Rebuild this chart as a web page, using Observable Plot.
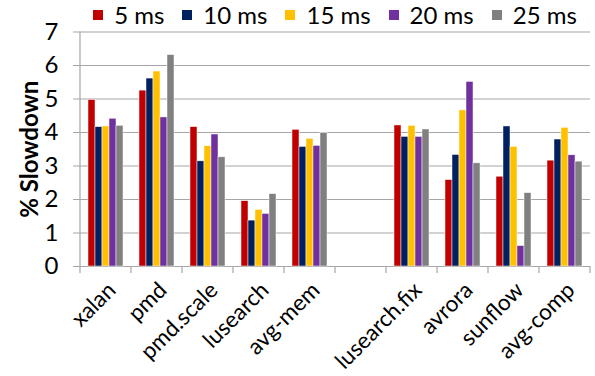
<!DOCTYPE html>
<html>
<head>
<meta charset="utf-8">
<script src="https://cdn.jsdelivr.net/npm/d3@7"></script>
<script src="https://cdn.jsdelivr.net/npm/@observablehq/plot@0.6"></script>
<style>
  body { margin: 0; background: #fff; }
  #chart { position: relative; width: 595px; height: 376px; font-family: Lato, "DejaVu Sans", sans-serif; }
  #legend {
    position: absolute; left: 78px; top: 0; width: 514px; height: 29px;
    display: flex; justify-content: center; align-items: center; gap: 18px;
    font-size: 24px; color: #000;
  }
  #legend .item { display: flex; align-items: center; }
  #legend .sw { width: 10px; height: 10px; margin-right: 11px; }
  #chart svg [aria-label="y-axis label"] { font-weight: bold; }
</style>
</head>
<body>
<div id="chart"><div id="legend"></div></div>
<script>
// Benchmarks, with an empty slot between the memory and compute groups
const memoryBenchmarks = ["xalan", "pmd", "pmd.scale", "lusearch", "avg-mem"];
const computeBenchmarks = ["lusearch.fix", "avrora", "sunflow", "avg-comp"];
const spacer = " ";
const benchmarks = [...memoryBenchmarks, ...computeBenchmarks];

// Sampling periods and their colours
const periods = ["5 ms", "10 ms", "15 ms", "20 ms", "25 ms"];
const periodColors = ["#C00000", "#002060", "#FFC000", "#7030A0", "#808080"];

// % slowdown per benchmark (same order as benchmarks) for each period
const slowdown5ms  = [4.97, 5.25, 4.16, 1.95, 4.08, 4.21, 2.58, 2.68, 3.16];
const slowdown10ms = [4.16, 5.61, 3.14, 1.37, 3.57, 3.87, 3.33, 4.18, 3.79];
const slowdown15ms = [4.18, 5.82, 3.59, 1.69, 3.81, 4.20, 4.66, 3.57, 4.14];
const slowdown20ms = [4.41, 4.45, 3.94, 1.57, 3.60, 3.87, 5.51, 0.61, 3.32];
const slowdown25ms = [4.20, 6.31, 3.26, 2.16, 3.98, 4.09, 3.08, 2.19, 3.13];

const yTicks = [0, 1, 2, 3, 4, 5, 6, 7];

const series = [slowdown5ms, slowdown10ms, slowdown15ms, slowdown20ms, slowdown25ms];
const rows = [];
series.forEach((values, i) => {
  values.forEach((v, j) => rows.push({bench: benchmarks[j], period: periods[i], value: v}));
});

const fxDomain = [...memoryBenchmarks, spacer, ...computeBenchmarks];

// Gridlines repeated in every column (the spacer column included)
const gridRows = fxDomain.flatMap((b) => yTicks.map((t) => ({bench: b, tick: t})));

const gridColor = "#a6a6a6";

const chart = Plot.plot({
  width: 595,
  height: 376,
  marginLeft: 78,
  marginRight: 3,
  marginTop: 31.5,
  marginBottom: 110,
  style: {fontFamily: "Lato, 'DejaVu Sans', sans-serif", fontSize: "24px", color: "#000", background: "transparent"},
  fx: {domain: fxDomain, padding: 0, axis: null},
  x: {domain: periods, paddingInner: 0, paddingOuter: 0.75, axis: null},
  y: {domain: [0, 7], axis: null},
  color: {domain: periods, range: periodColors},
  marks: [
    Plot.ruleY(gridRows, {fx: "bench", y: "tick", stroke: gridColor, strokeWidth: 1.2}),
    Plot.barY(rows, {
      fx: "bench", x: "period", y: "value", fill: "period",
      stroke: "white", strokeWidth: 0.6, strokeOpacity: 0.8
    }),
    Plot.axisY({
      ticks: yTicks, tickFormat: "d", tickSize: 7, tickPadding: 15, stroke: gridColor, fill: "#000",
      label: "% Slowdown", labelAnchor: "center", labelArrow: "none", labelOffset: 60
    }),
    Plot.axisFx({
      anchor: "bottom", tickSize: 0, tickPadding: 20, tickRotate: -45, fill: "#000", label: null,
      fontSize: 22.5, dx: 6
    })
  ]
});

// Axis line on the left and tick marks at the category boundaries
const fx = chart.scale("fx");
const y = chart.scale("y");
const edges = fxDomain.map((d) => fx.apply(d)).concat(fx.apply(fxDomain[fxDomain.length - 1]) + fx.bandwidth);
const svg = d3.select(chart);
const g = svg.append("g").attr("stroke", gridColor).attr("stroke-width", 1.2);
g.append("line")
  .attr("x1", edges[0]).attr("x2", edges[0])
  .attr("y1", y.apply(7)).attr("y2", y.apply(0));
g.selectAll("line.tick").data(edges).join("line")
  .attr("class", "tick")
  .attr("x1", (d) => d).attr("x2", (d) => d)
  .attr("y1", y.apply(0)).attr("y2", y.apply(0) + 7);

document.getElementById("chart").appendChild(chart);

// Legend row across the top
const legend = d3.select("#legend");
const items = legend.selectAll(".item").data(periods).join("div").attr("class", "item");
items.append("div").attr("class", "sw").style("background", (d, i) => periodColors[i]);
items.append("span").text((d) => d);
</script>
</body>
</html>
